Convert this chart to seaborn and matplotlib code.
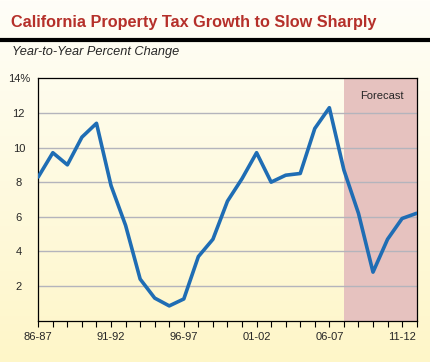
import numpy as np
import pandas as pd
import matplotlib
matplotlib.use("Agg")
import matplotlib.pyplot as plt
import seaborn as sns
from matplotlib.colors import LinearSegmentedColormap

# fiscal years 86-87 .. 12-13
years = ['86-87', '87-88', '88-89', '89-90', '90-91', '91-92', '92-93', '93-94',
         '94-95', '95-96', '96-97', '97-98', '98-99', '99-00', '00-01', '01-02',
         '02-03', '03-04', '04-05', '05-06', '06-07', '07-08', '08-09', '09-10',
         '10-11', '11-12', '12-13']
growth = [8.3, 9.7, 9.0, 10.6, 11.4, 7.8, 5.5, 2.4, 1.3, 0.85, 1.25, 3.7, 4.7,
          6.9, 8.2, 9.7, 8.0, 8.4, 8.5, 11.1, 12.3, 8.7, 6.2, 2.8, 4.7, 5.9, 6.2]
forecast_start = '07-08'
label_years = ['86-87', '91-92', '96-97', '01-02', '06-07', '11-12']
y_ticks = [2, 4, 6, 8, 10, 12, 14]
y_labels = ['2', '4', '6', '8', '10', '12', '14%']

df = pd.DataFrame({'year': years, 'growth': growth})
df['pos'] = range(len(df))

sns.set_style("white")
plt.rcParams['font.family'] = ['Liberation Sans', 'DejaVu Sans']

fig = plt.figure(figsize=(4.3, 3.62), dpi=100)

# gradient backdrop
bg = fig.add_axes([0, 0, 1, 1], zorder=-10)
cmap = LinearSegmentedColormap.from_list('bg', ['#fffef8', '#fef6c8'])
bg.imshow(np.linspace(0, 1, 256).reshape(-1, 1), aspect='auto', cmap=cmap,
          extent=[0, 1, 0, 1])
bg.set_axis_off()

ax = fig.add_axes([0.089, 0.1144, 0.880, 0.6693])
ax.patch.set_alpha(0)

start = years.index(forecast_start)
ax.axvspan(start, len(years) - 1, color='#e6c2bf', zorder=0, lw=0)
for t in y_ticks[:-1]:
    ax.axhline(t, color='#b4b4bc', lw=1, zorder=1)

sns.lineplot(data=df, x='pos', y='growth', ax=ax, color='#1f6db4', lw=2.6,
             zorder=3)

ax.set_xlim(0, len(years) - 1)
ax.set_ylim(0, 14)
ax.set_xticks(df['pos'])
ax.set_xticklabels([y if y in label_years else '' for y in years], fontsize=8)
ax.set_yticks(y_ticks)
ax.set_yticklabels(y_labels, fontsize=8)
ax.tick_params(axis='x', bottom=True, direction='out', length=4, width=0.8,
               color='black', pad=4)
ax.tick_params(axis='y', left=False, length=0, pad=14)
for lab in ax.get_yticklabels():
    lab.set_horizontalalignment('center')
ax.set_xlabel('')
ax.set_ylabel('')
for s in ax.spines.values():
    s.set_color('black')
    s.set_linewidth(0.9)

ax.text(23.6, 12.95, 'Forecast', fontsize=8, ha='center', va='center')

fig.text(0.026, 1 - 22 / 362, 'California Property Tax Growth to Slow Sharply',
         fontsize=11.7, fontweight='bold', color='#b5302a', va='center')
fig.add_artist(plt.Line2D([0, 1], [1 - 40 / 362, 1 - 40 / 362], color='black',
                          lw=3, transform=fig.transFigure))
fig.text(0.028, 1 - 52 / 362, 'Year-to-Year Percent Change', fontsize=9.2,
         style='italic', va='center')

fig.savefig('out.png', dpi=100)
